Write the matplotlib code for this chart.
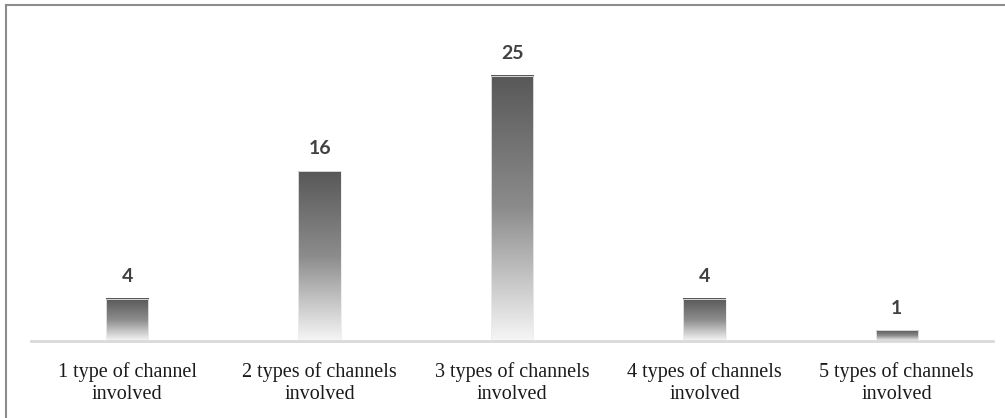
import matplotlib
matplotlib.use('Agg')
from matplotlib import pyplot as plt
from matplotlib.colors import LinearSegmentedColormap
from matplotlib.lines import Line2D
import numpy as np

categories = ['1 type of channel\ninvolved', '2 types of channels\ninvolved',
              '3 types of channels\ninvolved', '4 types of channels\ninvolved',
              '5 types of channels\ninvolved']
counts = [4, 16, 25, 4, 1]

W, H = 1005, 418
fig = plt.figure(figsize=(W / 100, H / 100), dpi=100)
ax = fig.add_axes([31 / W, 77 / H, 962 / W, 297 / H])

# gray gradient, dark at the top of each bar, fading to white at the bottom
cmap = LinearSegmentedColormap.from_list('bar_grad', [
    (0.0, '#f6f6f6'), (0.2, '#cccccc'), (0.5, '#8c8c8c'), (1.0, '#585858')])
grad = np.linspace(0, 1, 256).reshape(-1, 1)

x = np.arange(len(categories))
bars = ax.bar(x, counts, width=0.22, color='none', edgecolor='#ececec', linewidth=0.6, zorder=3)
for b, v in zip(bars, counts):
    x0 = b.get_x()
    ax.imshow(grad, cmap=cmap, origin='lower', aspect='auto',
              extent=[x0, x0 + b.get_width(), 0, v], zorder=2, interpolation='bilinear')
    ax.text(b.get_x() + b.get_width() / 2, v + 1.3, str(v), ha='center', va='bottom',
            fontsize=14, fontweight='bold', color='#404040', family='Lato')

ax.set_xlim(-0.5, len(categories) - 0.5)
ax.set_ylim(0, 28)
for s in ['top', 'right', 'left']:
    ax.spines[s].set_visible(False)
ax.spines['bottom'].set_color('#d9d9d9')
ax.spines['bottom'].set_linewidth(2)
ax.set_yticks([])
ax.set_xticks(x)
ax.set_xticklabels(categories, fontsize=14.5, color='#1a1a1a', linespacing=1.25)
for t in ax.get_xticklabels():
    t.set_family(['Liberation Serif', 'DejaVu Serif'])
ax.tick_params(axis='x', length=0, pad=15)

# frame lines at the top and left edge
fig.add_artist(Line2D([6 / W, 1], [1 - 5 / H, 1 - 5 / H], color='#8c8c8c', lw=1.5))
fig.add_artist(Line2D([6 / W, 6 / W], [0, 1 - 5 / H], color='#8c8c8c', lw=1.5))

fig.savefig('out.png', dpi=100, facecolor='white')
